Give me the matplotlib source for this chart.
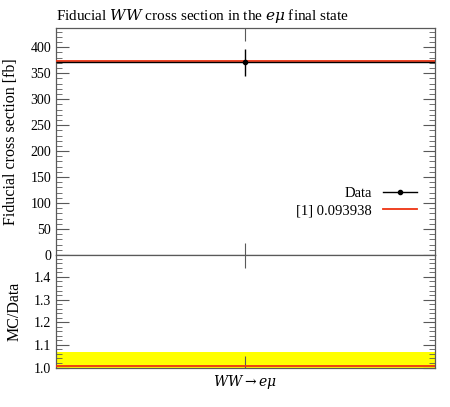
import numpy as np
import matplotlib.pyplot as plt
from matplotlib.ticker import MultipleLocator
from matplotlib.lines import Line2D

# Data
bin_edges = [0.0, 1.0]
bin_label = r"$WW \rightarrow e\mu$"
data_val = [371.0]
data_err = [26.0]
mc_val = [373.5]
mc_label = "[1] 0.093938"

RED = "#ee3311"
FRAME = "0.35"

plt.rcParams["font.family"] = ["Liberation Serif", "DejaVu Serif"]
plt.rcParams["mathtext.fontset"] = "dejavuserif"

fig = plt.figure(figsize=(4.5, 4.07), dpi=100)
ax = fig.add_axes([0.1244, 0.3735, 0.8422, 0.5577])
axr = fig.add_axes([0.1244, 0.0958, 0.8422, 0.2777], sharex=ax)

x0, x1 = bin_edges
xc = 0.5 * (x0 + x1)

# ── main panel ──
ax.hlines(mc_val, x0, x1, color=RED, lw=1.3, zorder=3)
ax.errorbar([xc], data_val, yerr=data_err, xerr=[0.5 * (x1 - x0)],
            fmt="o", color="black", ms=3, lw=1.0, capsize=0, zorder=4)
ax.set_xlim(x0, x1)
ax.set_ylim(0, 437)
ax.set_ylabel("Fiducial cross section [fb]", fontsize=11.5, labelpad=8)
ax.set_title(r"Fiducial $WW$ cross section in the $e\mu$ final state",
             fontsize=11, loc="left", pad=6)
ax.yaxis.set_major_locator(MultipleLocator(50))
ax.yaxis.set_minor_locator(MultipleLocator(10))
handles = [Line2D([], [], color="black", lw=1.0, marker="o", ms=3),
           Line2D([], [], color=RED, lw=1.3)]
ax.legend(handles, ["Data", mc_label], loc="upper right",
          bbox_to_anchor=(0.975, 0.34), frameon=False, fontsize=10.5,
          markerfirst=False, handlelength=2.3, labelspacing=0.3,
          borderaxespad=0.2)
ax.tick_params(labelbottom=False)

# ── ratio panel ──
rel = np.array(data_err) / np.array(data_val)
axr.fill_between([x0, x1], 1 - rel[0], 1 + rel[0], color="#ffff00",
                 lw=0, zorder=1)
axr.hlines(np.array(mc_val) / np.array(data_val), x0, x1, color=RED,
           lw=1.3, zorder=3)
axr.set_ylim(0.998, 1.497)
axr.set_ylabel("MC/Data", fontsize=11.5, labelpad=8)
axr.yaxis.set_major_locator(MultipleLocator(0.1))
axr.yaxis.set_minor_locator(MultipleLocator(0.02))
axr.yaxis.set_major_formatter(plt.FormatStrFormatter("%.1f"))
axr.set_xticks([xc])
axr.set_xticklabels([bin_label], fontsize=11)

for a in (ax, axr):
    for s in a.spines.values():
        s.set_color(FRAME)
        s.set_linewidth(0.9)
    a.tick_params(which="both", direction="in", top=True, right=True,
                  color=FRAME, labelsize=10)
    a.tick_params(which="major", length=9, width=0.8)
    a.tick_params(which="minor", length=4.5, width=0.6)
ax.set_xticks([xc])
axr.tick_params(axis="x", which="minor", length=0)
ax.tick_params(axis="x", which="minor", length=0)

fig.savefig("out.png", dpi=100)
